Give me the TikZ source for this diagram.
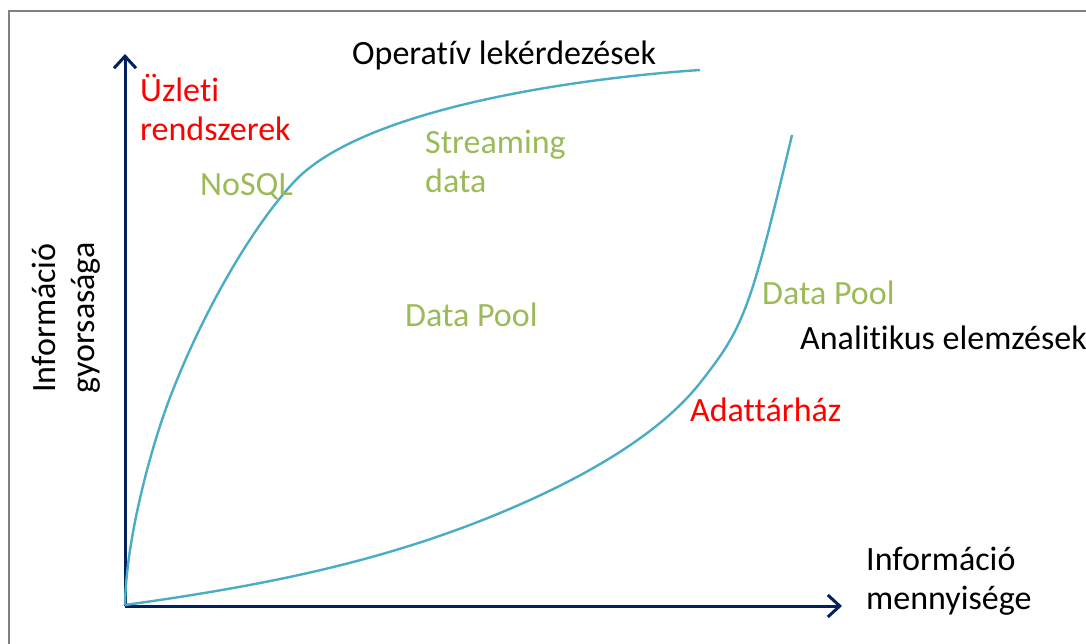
\documentclass[tikz,border=0pt]{standalone}
\usepackage{fontspec}
\setmainfont{Carlito}[Ligatures=NoCommon]
\usetikzlibrary{arrows.meta}
\definecolor{axisnavy}{HTML}{002060}
\definecolor{curveblue}{HTML}{4BACC6}
\definecolor{labelgreen}{HTML}{9BBB59}
\definecolor{labelred}{HTML}{FF0000}
\definecolor{framegray}{HTML}{808080}
\tikzset{
  axis/.style={draw=axisnavy, line width=3pt,
    -{Straight Barb[length=12pt, width=22pt, line width=3pt]}},
  trend/.style={draw=curveblue, line width=2.4pt},
  lbl/.style={inner sep=0pt, align=left, font=\fontsize{34}{39}\selectfont},
  black lbl/.style={lbl, text=black},
  green lbl/.style={lbl, text=labelgreen},
  red lbl/.style={lbl, text=labelred},
}
\begin{document}
\begin{tikzpicture}[x=1pt, y=-1pt]
  \useasboundingbox (0,0) rectangle (1086,644);
  % frame
  \draw[framegray, line width=2pt] (9,644) -- (9,11) -- (1086,11);

  % axes
  \coordinate (origin) at (125,606);
  \coordinate (ytip) at (125,54);
  \coordinate (xtip) at (842,606);
  \draw[axis] (origin) -- (ytip);
  \draw[axis] (origin) -- (xtip);

  % upper curve: operational queries
  \draw[trend] (125,605)
    .. controls (126,545) and (146,467) .. (163,417)
    .. controls (186.8,347) and (238.4,243) .. (293,183)
    .. controls (361,108) and (580,78) .. (700,70);

  % lower curve: analytics
  \draw[trend] (125,605)
    .. controls (250,587.5) and (375,565) .. (500,513)
    .. controls (570,484) and (655,440) .. (700,383)
    .. controls (744,327) and (750,311.4) .. (792,135);

  % labels
  \node[black lbl, anchor=west] (oper) at (352,55) {Operatív lekérdezések};
  \node[red lbl, anchor=west] (uzleti) at (140,107) {Üzleti\\rendszerek};
  \node[green lbl, anchor=west] (nosql) at (200,187) {NoSQL};
  \node[green lbl, anchor=west] (stream) at (425,161) {Streaming\\data};
  \node[green lbl, anchor=west] (pool1) at (405,315) {Data Pool};
  \node[green lbl, anchor=west] (pool2) at (762,293) {Data Pool};
  \node[black lbl, anchor=west] (anal) at (800,338) {Analitikus elemzések};
  \node[red lbl, anchor=west] (dwh) at (690,410) {Adattárház};
  \node[black lbl, anchor=west] (xlabel) at (866,581) {Információ\\mennyisége};
  \node[lbl, align=center, rotate=90] (ylabel) at (66,318) {Információ\\gyorsasága};
\end{tikzpicture}
\end{document}
